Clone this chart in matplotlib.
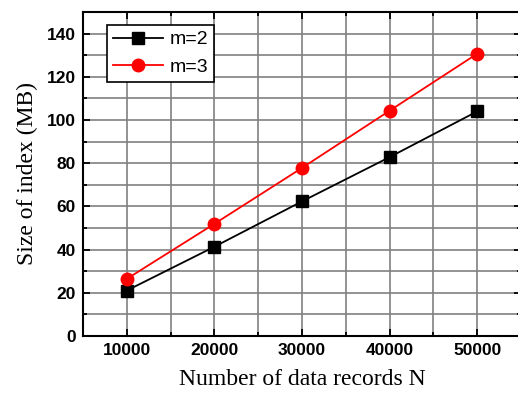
import matplotlib
matplotlib.use("Agg")
import matplotlib.pyplot as plt
from matplotlib.ticker import MultipleLocator

n_records = [10000, 20000, 30000, 40000, 50000]
size_m2 = [21, 41.3, 62.3, 82.8, 104]
size_m3 = [26.4, 51.9, 77.8, 104.3, 130.7]

fig = plt.figure(figsize=(5.18, 3.99), dpi=100)
ax = fig.add_axes([0.160, 0.158, 0.846, 0.812])

ax.plot(n_records, size_m2, color="black", marker="s", markersize=8, lw=1.3, label="m=2")
ax.plot(n_records, size_m3, color="red", marker="o", markersize=9, lw=1.3, label="m=3")

ax.set_xlim(5000, 55000)
ax.set_ylim(0, 150)
ax.xaxis.set_major_locator(MultipleLocator(10000))
ax.xaxis.set_minor_locator(MultipleLocator(5000))
ax.yaxis.set_major_locator(MultipleLocator(20))
ax.yaxis.set_minor_locator(MultipleLocator(10))

ax.grid(True, which="both", color="#808080", lw=1.2)
ax.set_axisbelow(True)

for s in ax.spines.values():
    s.set_linewidth(1.5)
ax.tick_params(which="both", direction="in", top=True, right=True, width=1.3)
ax.tick_params(which="major", length=5, pad=5)
ax.tick_params(which="minor", length=3)

for lab in ax.get_xticklabels() + ax.get_yticklabels():
    lab.set_fontfamily("Liberation Sans")
    lab.set_fontweight("bold")
    lab.set_fontsize(12.5)

ax.set_xlabel("Number of data records N", fontfamily="Liberation Serif", fontsize=17, labelpad=8)
ax.set_ylabel("Size of index (MB)", fontfamily="Liberation Serif", fontsize=17, labelpad=6)

leg = ax.legend(loc="upper left", bbox_to_anchor=(0.055, 0.96), borderaxespad=0,
                fancybox=False, edgecolor="black", framealpha=1, borderpad=0.3,
                handlelength=2.6, handletextpad=0.3, labelspacing=0.5,
                prop={"family": "Liberation Sans", "size": 14})
leg.get_frame().set_linewidth(1.2)

fig.savefig("out.png", dpi=100)
